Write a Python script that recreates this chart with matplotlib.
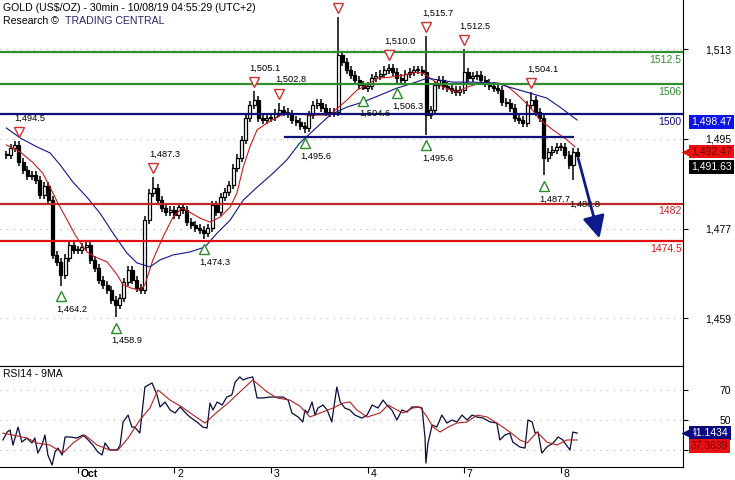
import numpy as np
import matplotlib.pyplot as plt
from matplotlib import transforms

plt.rcParams['font.family'] = ['Liberation Sans', 'DejaVu Sans']

# 1小时K线收盘价
closes = [
    1491.8, 1493.2, 1493.8, 1490.4, 1488.7, 1487.5, 1487.8, 1486.7, 1483.7, 1485.5,
    1482.7, 1471.7, 1470.3, 1467.7, 1471.1, 1473.7, 1472.7, 1472.7, 1473.3, 1473.7,
    1470.7, 1469.1, 1466.7, 1465.7, 1464.7, 1462.6, 1461.6, 1463.0, 1466.3, 1468.7,
    1466.7, 1465.0, 1464.7, 1478.7, 1484.1, 1485.1, 1482.7, 1481.1, 1480.3, 1480.7,
    1479.7, 1481.3, 1480.7, 1478.3, 1477.7, 1477.1, 1476.7, 1476.1, 1477.1, 1481.7,
    1480.3, 1483.3, 1484.3, 1485.7, 1489.1, 1491.2, 1494.8, 1499.2, 1501.8, 1502.8,
    1499.2, 1498.8, 1499.2, 1499.4, 1500.2, 1500.8, 1500.4, 1500.0, 1498.8, 1498.4,
    1497.6, 1497.2, 1499.8, 1501.8, 1502.2, 1501.2, 1500.4, 1500.2, 1500.4, 1511.8,
    1510.4, 1508.8, 1507.8, 1506.8, 1505.8, 1505.2, 1505.6, 1507.2, 1507.6, 1508.0,
    1508.8, 1509.2, 1508.4, 1507.2, 1506.8, 1508.0, 1508.4, 1508.8, 1508.8, 1508.4,
    1499.8, 1500.8, 1505.8, 1506.8, 1505.6, 1505.2, 1504.8, 1504.4, 1504.8, 1508.4,
    1507.2, 1507.6, 1507.8, 1506.8, 1506.2, 1505.6, 1505.2, 1504.8, 1502.4, 1502.2,
    1501.2, 1499.2, 1498.8, 1498.2, 1501.8, 1502.8, 1500.4, 1499.2, 1491.2, 1492.4,
    1492.8, 1493.4, 1493.4, 1491.8, 1489.8, 1492.4, 1491.6]

# 影线极值
hi_bars = [3, 35, 59, 65, 79, 91, 100, 109, 125]
hi_vals = [1494.5, 1487.3, 1504.6, 1502.3, 1519.5, 1510.0, 1515.7, 1513.0, 1504.4]
hi_text = ['1,494.5', '1,487.3', '1,505.1', '1,502.8', '', '1,510.0', '1,515.7', '1,512.5', '1,504.1']
lo_bars = [13, 26, 47, 71, 85, 93, 100, 128, 135]
lo_vals = [1465.5, 1459.2, 1475.0, 1496.2, 1504.8, 1506.3, 1495.8, 1487.7, 1486.7]
lo_text = ['1,464.2', '1,458.9', '1,474.3', '1,495.6', '1,504.6', '1,506.3', '1,495.6', '1,487.7', '1,488.8']
lo_show = [1, 1, 1, 1, 1, 1, 1, 1, 0]

# 均线
ma_fast_x = [0, 3.3, 6.4, 8.7, 10.4, 12.3, 14.5, 16.4, 17.5, 19.2, 21.1, 24.0, 26.4, 27.8, 29.9,
             31.8, 33.0, 34.9, 37.3, 39.7, 41.8, 43.7, 46.1, 48.5, 50.9, 53.3, 54.9, 56.4, 58.0,
             59.7, 62.1, 64.5, 66.8, 72.3, 77.1, 78.3, 81.1, 83.5, 85.9, 88.3, 91.4, 94.5, 97.8,
             99.2, 100.9, 104.0, 107.3, 109.7, 112.8, 117.5, 119.9, 122.3, 124.7, 127.1, 130.2,
             133.5, 135.4]
ma_fast_y = [1493.8, 1492.4, 1490.2, 1488.1, 1485.3, 1482.1, 1478.7, 1475.7, 1474.3, 1472.3,
             1471.3, 1470.3, 1467.7, 1465.7, 1465.0, 1464.6, 1465.7, 1470.7, 1475.3, 1479.3,
             1481.1, 1480.3, 1479.1, 1478.3, 1479.3, 1481.3, 1484.1, 1489.3, 1493.4, 1496.8,
             1498.2, 1499.4, 1500.2, 1499.8, 1499.8, 1500.8, 1502.8, 1504.8, 1505.8, 1507.2,
             1507.4, 1507.8, 1508.4, 1508.2, 1507.2, 1505.4, 1504.4, 1505.4, 1506.2, 1506.2,
             1505.2, 1503.4, 1501.4, 1498.8, 1496.8, 1494.8, 1493.4]
ma_slow_x = [0, 3.3, 7.3, 10.4, 12.8, 15.9, 19.2, 22.3, 25.4, 28.7, 31.1, 34.2, 36.6, 39.7, 43.7,
             47.3, 50.2, 53.3, 56.4, 59.7, 63.5, 66.8, 69.9, 74.0, 77.1, 81.1, 84.9, 89.0, 93.0,
             96.8, 100.2, 106.4, 111.1, 116.8, 120.6, 124.7, 128.7, 131.8, 135.9]
ma_slow_y = [1497.2, 1495.2, 1493.4, 1492.2, 1489.8, 1486.3, 1483.3, 1480.1, 1476.1, 1472.1,
             1470.1, 1469.3, 1470.7, 1471.7, 1472.3, 1473.3, 1476.1, 1478.7, 1482.7, 1485.3,
             1488.1, 1490.8, 1494.2, 1497.4, 1499.8, 1501.4, 1502.4, 1503.8, 1505.2, 1506.2,
             1507.2, 1506.4, 1506.4, 1506.2, 1505.2, 1504.2, 1503.2, 1501.4, 1498.8]

# 支撑阻力
levels = [1512.5, 1506, 1500, 1482, 1474.5]
level_text = ['1512.5', '1506', '1500', '1482', '1474.5']
level_color = ['#2f8f2f', '#2f8f2f', '#10107a', '#c02828', '#e01010']
seg_x = [66.4, 134.9]
seg_y = 1495.4
target = [141.4, 1474.5]

# RSI
rsi_x = [-0.8, 0.2, 0.9, 1.6, 2.8, 3.7, 4.9, 6.1, 6.8, 7.5,
         8.5, 9.2, 9.9, 10.9, 11.6, 12.3, 13.3, 14.0, 15.2, 16.8,
         18.3, 19.5, 20.6, 21.8, 22.8, 23.5, 24.7, 26.4, 27.1, 27.8,
         29.0, 29.9, 30.6, 31.8, 33.0, 34.7, 35.9, 36.6, 37.8, 39.0,
         40.2, 41.4, 42.5, 43.7, 45.4, 46.8, 47.8, 48.5, 49.2, 50.2,
         51.4, 52.5, 53.7, 54.5, 55.6, 56.4, 57.5, 58.7, 59.7, 61.1,
         62.8, 64.5, 65.9, 67.1, 68.0, 69.5, 70.6, 71.1, 71.8, 72.8,
         73.5, 74.2, 75.4, 76.4, 77.5, 77.8, 78.7, 79.5, 80.6, 81.8,
         83.0, 84.7, 85.9, 87.1, 88.5, 89.7, 90.6, 91.8, 93.0, 94.2,
         95.4, 96.6, 98.0, 99.0, 99.7, 99.9, 100.4, 101.4, 102.5, 103.7,
         104.9, 106.1, 107.3, 108.5, 109.7, 110.9, 112.1, 113.5, 115.2, 116.8,
         117.5, 118.7, 119.9, 120.6, 122.3, 123.5, 124.2, 125.2, 125.9, 126.6,
         127.5, 128.7, 130.2, 131.4, 132.5, 134.2, 134.9, 135.9]
rsi_y = [36.7, 42.0, 43.3, 33.3, 45.3, 35.3, 38.0, 34.7, 38.0, 28.0,
         33.3, 40.0, 26.7, 20.0, 28.7, 31.3, 26.7, 38.7, 38.7, 38.0,
         40.0, 36.7, 33.3, 28.7, 26.7, 34.7, 30.0, 30.0, 33.3, 48.7,
         53.3, 45.3, 45.3, 41.3, 72.0, 74.7, 66.7, 58.7, 62.0, 56.7,
         54.7, 58.7, 55.3, 52.0, 48.7, 45.3, 44.7, 61.3, 56.7, 62.0,
         60.0, 65.3, 66.7, 75.3, 78.7, 76.7, 78.0, 78.7, 64.7, 64.7,
         65.3, 65.3, 65.3, 63.3, 54.7, 52.0, 48.7, 56.7, 54.7, 62.0,
         53.3, 58.0, 60.0, 56.7, 48.7, 54.7, 72.0, 62.0, 58.0, 56.7,
         53.3, 51.3, 53.3, 60.0, 58.0, 63.3, 60.0, 56.7, 50.0, 56.7,
         55.3, 58.7, 58.7, 58.0, 38.0, 21.3, 34.7, 46.7, 45.3, 53.3,
         48.0, 50.0, 48.7, 53.3, 50.0, 53.3, 52.0, 51.3, 48.7, 48.0,
         36.7, 40.0, 41.3, 35.3, 32.0, 31.3, 50.0, 48.7, 41.3, 42.0,
         28.0, 32.0, 34.7, 38.7, 36.7, 30.0, 42.0, 41.3]
rsi_ma_x = [-0.8, 1.6, 4.9, 7.3, 10.4, 13.5, 15.9, 18.7, 21.6, 24.7,
            26.6, 29.0, 31.8, 34.2, 36.1, 39.0, 41.8, 44.5, 47.3, 50.2,
            52.8, 55.6, 58.7, 62.1, 64.5, 67.5, 69.9, 72.3, 74.7, 77.8,
            80.2, 81.8, 83.5, 85.9, 89.0, 90.9, 93.0, 94.5, 96.8, 98.5,
            100.2, 101.6, 103.3, 105.2, 107.3, 109.7, 112.1, 114.5, 117.5, 119.9,
            122.3, 124.0, 126.4, 128.7, 131.1, 133.5, 135.9]
rsi_ma_y = [41.3, 40.0, 38.0, 34.7, 33.3, 28.0, 34.7, 40.0, 33.3, 30.0,
            30.0, 38.0, 50.0, 58.0, 70.0, 63.3, 58.7, 53.3, 48.0, 55.3,
            61.3, 68.7, 76.7, 68.7, 64.7, 63.3, 59.3, 52.0, 54.7, 58.0,
            61.3, 62.0, 56.7, 52.0, 54.7, 60.0, 56.7, 54.7, 58.0, 58.7,
            52.0, 45.3, 42.0, 45.3, 48.0, 48.7, 53.3, 52.0, 46.7, 42.0,
            36.7, 34.7, 42.0, 35.3, 33.3, 36.7, 36.7]

day_pos = [17, 40, 63, 86, 109, 132]
day_text = ['Oct', '2', '3', '4', '7', '8']
price_ticks = [1459, 1477, 1495, 1513]
rsi_ticks = [30, 50, 70]

# 右侧标签: 数值, 文字, 底色, 字色, 偏移(pt), 是否带箭头
price_tags = [(1498.47, '1,498.47', '#0a14e6', 'white', 0, False),
              (1492.47, '1,492.47', '#e81010', '#7a0000', 0, True),
              (1491.63, '1,491.63', 'black', 'white', -8, False)]
rsi_tags = [(41.1434, '41.1434', '#0a0a80', 'white', 0, True),
            (37.3639, '37.3639', '#e81010', '#7a0000', -5, False)]

fig = plt.figure(figsize=(7.35, 4.8), dpi=100)
fig.patch.set_facecolor('white')
ax = fig.add_axes([0, 0.2375, 683 / 735, 0.7625])
ax2 = fig.add_axes([0, 13 / 480, 683 / 735, 101 / 480], sharex=ax)

xlim = (-1.5, 683 / 4.2 - 1.5)
ax.set_xlim(*xlim)
ax.set_ylim(1449.4, 1522.9)
ax2.set_ylim(18.7, 86)

# K线
x = np.arange(len(closes))
c = np.array(closes)
o = np.r_[c[0], c[:-1]]
hi = np.maximum(o, c) + 0.8
lo = np.minimum(o, c) - 0.8
hi[hi_bars] = hi_vals
lo[lo_bars] = lo_vals
up = c >= o
ax.vlines(x, lo, hi, color='black', lw=1.1, zorder=2)
ax.bar(x[up], np.maximum(c - o, 0.2)[up], bottom=o[up], width=0.72,
       color='white', edgecolor='black', lw=0.9, zorder=2.1)
ax.bar(x[~up], np.maximum(o - c, 0.2)[~up], bottom=c[~up], width=0.72,
       color='black', edgecolor='black', lw=0.9, zorder=2.1)

ax.plot(ma_fast_x, ma_fast_y, color='#c81e1e', lw=0.8, zorder=3)
ax.plot(ma_slow_x, ma_slow_y, color='#14148c', lw=0.8, zorder=3)

# 水平线
for lv, t, col in zip(levels, level_text, level_color):
    ax.axhline(lv, color=col, lw=1.6, zorder=3.5)
    tr = transforms.offset_copy(transforms.blended_transform_factory(ax.transAxes, ax.transData),
                                fig=fig, x=-1, y=-2, units='points')
    ax.text(1.0, lv, t, transform=tr, ha='right', va='top', color=col, fontsize=7.5, zorder=4)
ax.plot(seg_x, [seg_y, seg_y], color='#10107a', lw=1.6, zorder=3.5)

# 网格
for t in price_ticks:
    ax.axhline(t, color='#b0b0b0', lw=0.8, ls=(0, (1, 5)), zorder=1)
for t in rsi_ticks:
    ax2.axhline(t, color='#b0b0b0', lw=0.8, ls=(0, (1, 5)), zorder=1)

# 高低点标记
for b, t in zip(hi_bars, hi_text):
    tr_m = transforms.offset_copy(ax.transData, fig=fig, x=0, y=6.5, units='points')
    ax.plot(b, hi[b], marker='v', ms=7, mfc='white', mec='#d03030', mew=1, transform=tr_m,
            zorder=5, clip_on=False)
    tr_t = transforms.offset_copy(ax.transData, fig=fig, x=-3.2, y=16.5, units='points')
    ax.text(b, hi[b], t, transform=tr_t, ha='left', va='center', fontsize=6.7, zorder=5)
for b, t, s in zip(lo_bars, lo_text, lo_show):
    if s:
        tr_m = transforms.offset_copy(ax.transData, fig=fig, x=0, y=-7.5, units='points')
        ax.plot(b, lo[b], marker='^', ms=7, mfc='white', mec='#2a8a2a', mew=1, transform=tr_m,
                zorder=5)
    tr_t = transforms.offset_copy(ax.transData, fig=fig, x=-3.2, y=-17, units='points')
    ax.text(b, lo[b], t, transform=tr_t, ha='left', va='center', fontsize=6.7, zorder=5)

# 预测箭头
ax.annotate('', xy=(target[0], target[1]), xytext=(x[-1], c[-1]),
            arrowprops=dict(arrowstyle='-|>,head_length=0.9,head_width=0.45',
                            color='#0c1a8a', lw=2, mutation_scale=15), zorder=6)

# RSI
ax2.plot(rsi_x, rsi_y, color='#0a0a3c', lw=0.9, zorder=3)
ax2.plot(rsi_ma_x, rsi_ma_y, color='#b02020', lw=0.8, zorder=3)

# 坐标轴样式
for a in (ax, ax2):
    for s in ('left', 'top'):
        a.spines[s].set_visible(False)
    a.spines['right'].set_color('black')
    a.spines['bottom'].set_color('black')
    a.yaxis.tick_right()
    a.tick_params(axis='y', direction='out', length=3.6, width=0.8, pad=31, labelsize=7.5)
ax2.spines['top'].set_visible(True)

ax.set_yticks(price_ticks)
ax.set_yticklabels(['{:,}'.format(t) for t in price_ticks], ha='right')
ax2.set_yticks(rsi_ticks)
ax2.set_yticklabels(['', '50', '70'], ha='right')
ax.tick_params(axis='x', bottom=False, labelbottom=False)
ax2.set_xticks(day_pos)
ax2.set_xticklabels([])
ax2.tick_params(axis='x', direction='out', length=4, width=0.8)
for p, t in zip(day_pos, day_text):
    tr = transforms.offset_copy(transforms.blended_transform_factory(ax2.transData, ax2.transAxes),
                                fig=fig, x=2, y=-5, units='points')
    ax2.text(p, 0, t, transform=tr, ha='left', va='center', fontsize=7.5,
             fontweight='bold' if t == 'Oct' else 'normal', clip_on=False)


def tag(a, val, txt, fc, tc, dy, arrow):
    base = transforms.blended_transform_factory(a.transAxes, a.transData)
    tr = transforms.offset_copy(base, fig=fig, x=0, y=dy, units='points')
    a.text(691 / 683, val, txt, transform=tr, ha='left', va='center', color=tc, fontsize=7.5,
           bbox=dict(boxstyle='square,pad=0.18', fc=fc, ec='none'), clip_on=False, zorder=7)
    if arrow:
        a.plot([686.5 / 683], [val], marker='<', ms=8.5, color=fc, mec='none', transform=tr,
               clip_on=False, zorder=7)


for v in price_tags:
    tag(ax, *v)
for v in rsi_tags:
    tag(ax2, *v)

# 标题
fig.text(3 / 735, 1 - 8 / 480, 'GOLD (US$/OZ) - 30min - 10/08/19 04:55:29 (UTC+2)',
         fontsize=7.6, va='center', ha='left')
fig.text(3 / 735, 1 - 21 / 480, 'Research \u00a9', fontsize=7.6, va='center', ha='left')
fig.text(65 / 735, 1 - 21 / 480, 'TRADING CENTRAL', fontsize=7.6, va='center', ha='left',
         color='#33206a')
ax2.text(3 / 683, 1, 'RSI14 - 9MA', transform=transforms.offset_copy(
    ax2.transAxes, fig=fig, x=0, y=-5.5, units='points'), fontsize=7.5, va='center', ha='left')

fig.savefig('out.png', dpi=100, facecolor='white')
